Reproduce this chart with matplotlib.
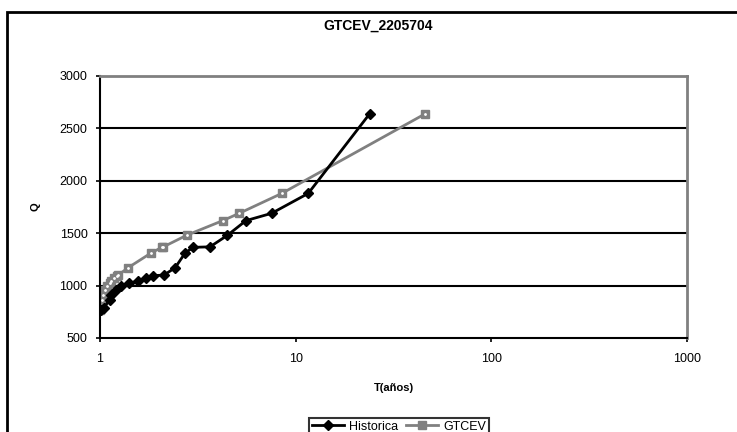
import numpy as np
import matplotlib.pyplot as plt
from matplotlib.patches import Rectangle

plt.rcParams['font.family'] = ['Liberation Sans', 'DejaVu Sans']

# Serie historica: periodo de retorno (anos) y caudal
T_hist = [23.9, 11.6, 7.54, 5.57, 4.48, 3.65, 2.99, 2.72, 2.42, 2.12,
          1.86, 1.72, 1.56, 1.41, 1.28, 1.21, 1.14, 1.12, 1.05, 1.01]
Q_hist = [2640, 1880, 1690, 1620, 1480, 1370, 1365, 1310, 1170, 1100,
          1095, 1075, 1040, 1025, 995, 960, 915, 865, 790, 770]

# Ajuste GTCEV para los mismos caudales
T_gtcev = [46.0, 8.5, 5.15, 4.24, 2.77, 2.11, 2.07, 1.82, 1.39, 1.24,
           1.22, 1.18, 1.14, 1.12, 1.085, 1.06, 1.035, 1.018, 1.006, 1.002]
Q_gtcev = Q_hist

y_ticks = [500, 1000, 1500, 2000, 2500, 3000]
x_ticks = [1, 10, 100, 1000]
x_ticklabels = ['1', '10', '100', '1000']

fig = plt.figure(figsize=(7.37, 4.32), dpi=100)
ax = fig.add_axes([100 / 737, 1 - 338 / 432, 587 / 737, 262 / 432])

# marco del grafico
fig.patches.append(Rectangle((7 / 737, -0.05), 1.1, 1 - 12 / 432 + 0.05,
                             transform=fig.transFigure, fill=False,
                             edgecolor='black', linewidth=2, zorder=0))

for yv in y_ticks[1:-1]:
    ax.axhline(yv, color='black', lw=1.5, zorder=1)

ax.plot(T_hist, Q_hist, color='black', lw=2, marker='D', markersize=5,
        label='Historica', zorder=3)
ax.plot(T_gtcev, Q_gtcev, color='#808080', lw=2, marker='s', markersize=6,
        label='GTCEV', zorder=2)
ax.plot(T_gtcev, Q_gtcev, ls='none', marker='.', markersize=2, color='white', zorder=2)

ax.set_xscale('log')
ax.set_xlim(1, 1000)
ax.set_ylim(500, 3000)
ax.set_xticks(x_ticks)
ax.set_xticklabels(x_ticklabels)
ax.xaxis.set_minor_locator(plt.NullLocator())
ax.set_yticks(y_ticks)
ax.set_yticklabels(['500', '1000', '1500', '2000', '2500', '3000'])
ax.tick_params(axis='both', labelsize=9, length=3, width=1.2, direction='out')
ax.tick_params(axis='x', pad=8)
ax.tick_params(axis='y', pad=6)

for s in ['left', 'bottom']:
    ax.spines[s].set_color('black')
    ax.spines[s].set_linewidth(1.5)
for s in ['top', 'right']:
    ax.spines[s].set_color('#808080')
    ax.spines[s].set_linewidth(2)

ax.set_xlabel('T(años)', fontsize=8, fontweight='bold', labelpad=13)
ax.set_ylabel('Q', fontsize=8, fontweight='bold', labelpad=14)

fig.text(378 / 737, 1 - 26 / 432, 'GTCEV_2205704', ha='center', va='center',
         fontsize=10, fontweight='bold')

leg = ax.legend(loc='upper center', bbox_to_anchor=(399 / 737, 1 - 418 / 432),
                bbox_transform=fig.transFigure, ncol=2, fontsize=9,
                frameon=True, fancybox=False, edgecolor='black',
                handlelength=2.6, columnspacing=0.6, handletextpad=0.4,
                borderpad=0.2, borderaxespad=0)
leg.get_frame().set_linewidth(1.5)

fig.savefig('out.png', dpi=100)
